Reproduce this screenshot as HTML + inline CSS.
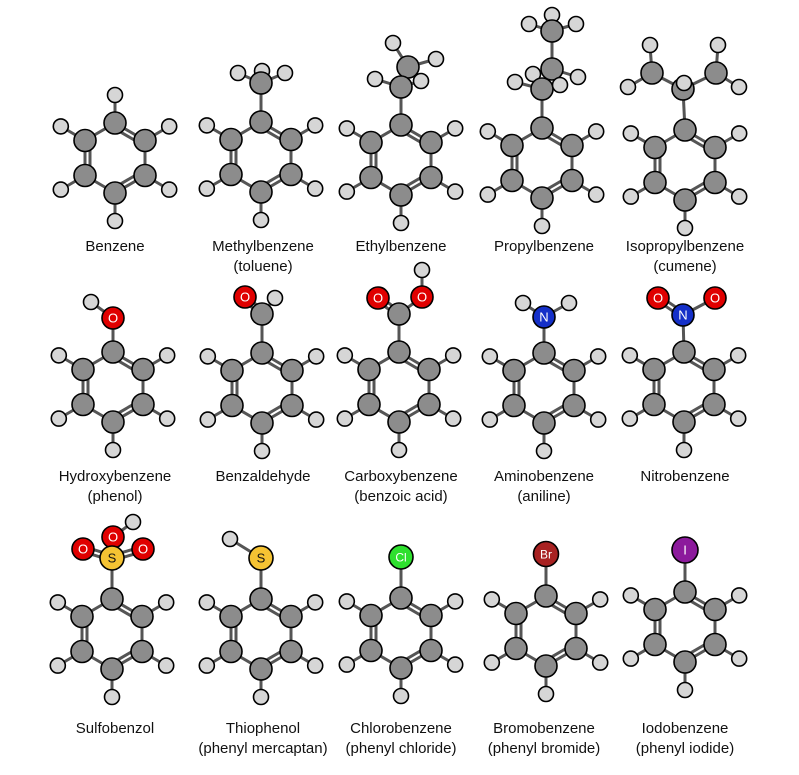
<!DOCTYPE html>
<html><head><meta charset="utf-8"><style>
html,body{margin:0;padding:0;background:#fff;width:799px;height:775px;overflow:hidden}
svg text{font-family:"Liberation Sans",sans-serif}
</style></head><body>
<svg id="s" width="799" height="775" viewBox="0 0 799 775" xmlns="http://www.w3.org/2000/svg">
<rect width="799" height="775" fill="#fff"/>
<g id="m"></g>
<g font-size="15" fill="#111" text-anchor="middle">
<text x="115" y="251">Benzene</text>
<text x="263" y="251">Methylbenzene</text><text x="263" y="271">(toluene)</text>
<text x="401" y="251">Ethylbenzene</text>
<text x="544" y="251">Propylbenzene</text>
<text x="685" y="251">Isopropylbenzene</text><text x="685" y="271">(cumene)</text>
<text x="115" y="481">Hydroxybenzene</text><text x="115" y="501">(phenol)</text>
<text x="263" y="481">Benzaldehyde</text>
<text x="401" y="481">Carboxybenzene</text><text x="401" y="501">(benzoic acid)</text>
<text x="544" y="481">Aminobenzene</text><text x="544" y="501">(aniline)</text>
<text x="685" y="481">Nitrobenzene</text>
<text x="115" y="733">Sulfobenzol</text>
<text x="263" y="733">Thiophenol</text><text x="263" y="753">(phenyl mercaptan)</text>
<text x="401" y="733">Chlorobenzene</text><text x="401" y="753">(phenyl chloride)</text>
<text x="544" y="733">Bromobenzene</text><text x="544" y="753">(phenyl bromide)</text>
<text x="685" y="733">Iodobenzene</text><text x="685" y="753">(phenyl iodide)</text>
</g>
</svg>
<script>
const T={C:['#8c8c8c',11,''],H:['#d6d6d6',7.5,''],O:['#e00000',11,'O','#fff'],N:['#1530c8',11,'N','#fff'],
S:['#f5c333',12,'S','#111'],Cl:['#2ee02e',12,'Cl','#fff'],Br:['#a82222',12.5,'Br','#fff'],I:['#8c1a9c',13,'I','#fff']};
let out='';
function line(x1,y1,x2,y2){out+=`<line x1="${x1}" y1="${y1}" x2="${x2}" y2="${y2}" stroke="#555" stroke-width="3" stroke-linecap="round"/>`;}
function atom(x,y,t){const d=T[t];out+=`<circle cx="${x}" cy="${y}" r="${d[1]}" fill="${d[0]}" stroke="#000" stroke-width="1.6"/>`;
 if(d[2])out+=`<text x="${x}" y="${y+4.5}" font-size="${d[2].length>1?12:13}" text-anchor="middle" fill="${d[3]}">${d[2]}</text>`;}
function dbl(a,b){const dx=b[0]-a[0],dy=b[1]-a[1],L=Math.hypot(dx,dy),nx=-dy/L*2.5,ny=dx/L*2.5;
 line(a[0]+nx,a[1]+ny,b[0]+nx,b[1]+ny);line(a[0]-nx,a[1]-ny,b[0]-nx,b[1]-ny);}
function mol(x,y,subs,bonds){
 const P=[[0,0],[30,17.5],[30,52.5],[0,70],[-30,52.5],[-30,17.5]].map(p=>[x+p[0],y+p[1]]);
 const cx=x,cy=y+35;
 const Hs=[];for(let i=(subs?1:0);i<6;i++){const dx=P[i][0]-cx,dy=P[i][1]-cy,L=Math.hypot(dx,dy);Hs.push([P[i][0]+dx/L*28,P[i][1]+dy/L*28,i]);}
 Hs.forEach(h=>line(P[h[2]][0],P[h[2]][1],h[0],h[1]));
 for(let i=0;i<6;i++){const a=P[i],b=P[(i+1)%6];line(a[0],a[1],b[0],b[1]);
  if(i%2==0){const s=0.22;let ax=a[0]+(b[0]-a[0])*s,ay=a[1]+(b[1]-a[1])*s,bx=a[0]+(b[0]-a[0])*(1-s),by=a[1]+(b[1]-a[1])*(1-s);
   const mx=(ax+bx)/2,my=(ay+by)/2,dx=cx-mx,dy=cy-my,L=Math.hypot(dx,dy);
   line(ax+dx/L*5,ay+dy/L*5,bx+dx/L*5,by+dy/L*5);}}
 if(subs){const A=subs.map(s=>s);const get=i=>i<0?P[0]:A[i];
  bonds.forEach(b=>{const a=get(b[0]),c=get(b[1]);if(b[2])dbl(a,c);else line(a[0],a[1],c[0],c[1]);});}
 Hs.forEach(h=>atom(h[0],h[1],'H'));
 P.forEach(p=>atom(p[0],p[1],'C'));
 if(subs)subs.forEach(s=>atom(s[0],s[1],s[2]));
}
// row 1
mol(115,123);
mol(261,122,[[262,71,'H'],[261,83,'C'],[238,73,'H'],[285,73,'H']],[[-1,1],[1,0],[1,2],[1,3]]);
mol(401,125,[[393,43,'H'],[436,59,'H'],[408,67,'C'],[421,81,'H'],[401,87,'C'],[375,79,'H']],[[-1,4],[4,2],[2,0],[2,1],[4,3],[4,5]]);
mol(542,128,[[552,15,'H'],[552,31,'C'],[529,24,'H'],[576,24,'H'],[552,69,'C'],[533,74,'H'],[578,77,'H'],[542,89,'C'],[515,82,'H'],[560,85,'H']],
 [[-1,7],[7,4],[4,1],[1,0],[1,2],[1,3],[4,5],[4,6],[7,8],[7,9]]);
mol(685,130,[[650,45,'H'],[628,87,'H'],[652,73,'C'],[718,45,'H'],[739,87,'H'],[716,73,'C'],[683,89,'C'],[684,83,'H']],
 [[-1,6],[6,2],[6,5],[2,0],[2,1],[5,3],[5,4]]);
// row 2
mol(113,352,[[91,302,'H'],[113,318,'O']],[[-1,1],[1,0]]);
mol(262,353,[[262,314,'C'],[245,297,'O'],[275,298,'H']],[[-1,0],[0,1,1],[0,2]]);
mol(399,352,[[422,270,'H'],[399,314,'C'],[378,298,'O'],[422,297,'O']],[[-1,1],[1,2,1],[1,3],[3,0]]);
mol(544,353,[[523,303,'H'],[569,303,'H'],[544,317,'N']],[[-1,2],[2,0],[2,1]]);
mol(684,352,[[683,315,'N'],[658,298,'O'],[715,298,'O']],[[-1,0],[0,1,1],[0,2]]);
// row 3
mol(112,599,[[133,522,'H'],[113,537,'O'],[112,558,'S'],[83,549,'O'],[143,549,'O']],[[-1,2],[2,1],[1,0],[2,3,1],[2,4,1]]);
mol(261,599,[[230,539,'H'],[261,558,'S']],[[-1,1],[1,0]]);
mol(401,598,[[401,557,'Cl']],[[-1,0]]);
mol(546,596,[[546,554,'Br']],[[-1,0]]);
mol(685,592,[[685,550,'I']],[[-1,0]]);
document.getElementById('m').innerHTML=out;
</script>
</body></html>
